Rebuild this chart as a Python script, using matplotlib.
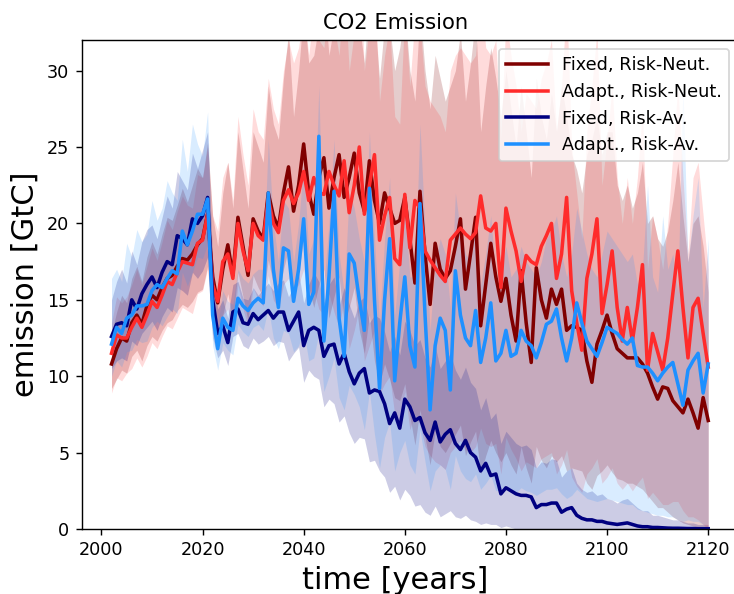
import numpy as np
import matplotlib.pyplot as plt

##############################################
### Data (mean and spread of the runs)

years = np.arange(2002, 2121)

fixed_neut = [10.8, 11.8, 12.5, 12.3, 13.5, 14.0, 13.4, 14.6, 15.3, 15.0,
              15.8, 16.4, 16.6, 17.2, 17.7, 17.6, 18.0, 18.6, 19.0, 20.6,
              16.5, 14.8, 17.0, 18.6, 16.6, 20.4, 18.5, 16.6, 20.3, 19.5,
              19.0, 22.0, 20.5, 19.7, 22.0, 23.7, 20.8, 22.5, 25.2, 22.0,
              20.6, 23.0, 24.3, 21.0, 23.0, 24.5, 21.7, 23.0, 24.6, 22.0,
              20.8, 24.1, 21.5, 20.0, 22.0, 21.0, 20.0, 20.2, 21.7, 19.0,
              16.1, 22.1, 18.0, 14.7, 18.7, 17.0, 16.4, 16.9, 18.5, 20.3,
              15.7, 18.0, 20.4, 13.3, 16.0, 18.7, 16.5, 14.9, 16.4, 14.0,
              12.3, 16.9, 13.5, 10.9, 17.1, 15.0, 13.8, 15.7, 14.7, 15.7,
              13.0, 13.3, 13.2, 13.0, 11.0, 9.6, 12.1, 13.0, 14.0, 12.8,
              11.8, 11.5, 11.2, 11.2, 11.2, 10.8, 10.2, 9.3, 8.5, 9.3,
              9.2, 8.4, 8.0, 7.6, 8.5, 7.6, 6.6, 8.6, 7.1]
fixed_neut_lo = [9.2, 9.8, 10.4, 10.2, 11.3, 11.7, 11.0, 12.0, 12.6, 12.3,
                 13.0, 13.5, 13.7, 14.3, 14.7, 14.5, 14.9, 15.5, 15.7, 17.2,
                 13.6, 12.0, 14.0, 15.4, 13.6, 16.8, 15.2, 13.6, 16.6, 15.8,
                 15.2, 17.6, 16.0, 15.2, 17.0, 18.3, 15.6, 16.8, 19.0, 15.8,
                 14.5, 16.0, 17.0, 13.8, 15.2, 16.5, 13.5, 14.5, 15.8, 13.0,
                 11.5, 14.0, 11.0, 9.5, 10.8, 9.8, 8.6, 8.4, 9.5, 7.4,
                 5.5, 7.8, 6.0, 4.2, 6.4, 5.4, 5.0, 5.6, 6.2, 6.8,
                 4.8, 5.7, 6.4, 3.6, 4.8, 5.8, 5.0, 4.4, 5.0, 4.2,
                 3.6, 5.4, 4.0, 3.0, 5.4, 4.5, 4.0, 4.8, 4.4, 4.8,
                 3.8, 4.0, 3.9, 3.8, 3.0, 2.6, 3.5, 3.8, 4.2, 3.7,
                 3.3, 3.2, 3.0, 3.0, 2.8, 2.6, 2.2, 1.8, 1.4, 1.4,
                 1.1, 0.8, 0.6, 0.4, 0.3, 0.2, 0.1, 0.05, 0.0]
fixed_neut_hi = [12.8, 14.2, 15.3, 14.8, 16.4, 17.2, 16.2, 17.8, 18.8, 18.0,
                 19.3, 20.4, 20.2, 21.2, 22.3, 21.4, 22.5, 23.6, 23.0, 25.3,
                 20.5, 18.5, 22.0, 24.0, 21.0, 26.0, 23.5, 21.0, 26.0, 25.0,
                 24.0, 29.0, 26.5, 25.5, 29.5, 32.5, 27.0, 30.0, 34.0, 30.5,
                 31.0, 33.0, 35.0, 31.0, 33.0, 35.5, 32.0, 33.5, 36.0, 33.0,
                 30.5, 35.0, 33.5, 29.5, 33.0, 33.0, 30.0, 31.5, 34.0, 30.0,
                 28.0, 34.0, 30.0, 27.5, 31.0, 29.5, 28.0, 29.0, 30.0, 32.5,
                 28.0, 30.5, 33.5, 26.0, 29.0, 31.5, 29.5, 27.0, 30.0, 27.5,
                 25.0, 29.0, 26.0, 23.0, 29.5, 27.0, 25.5, 28.5, 26.0, 29.0,
                 27.0, 24.5, 23.5, 22.0, 24.5, 25.5, 27.0, 24.5, 26.0, 26.0,
                 22.5, 21.5, 22.5, 21.0, 22.0, 24.0, 20.0, 20.5, 19.0, 18.5,
                 19.5, 21.5, 24.0, 20.5, 17.5, 20.0, 20.5, 18.5, 15.5]

adapt_neut = [11.5, 12.7, 12.5, 12.5, 13.2, 13.8, 13.2, 14.0, 14.9, 14.5,
              15.3, 16.2, 16.0, 16.8, 17.5, 17.4, 17.3, 18.7, 18.9, 20.6,
              16.0, 14.9, 17.5, 18.0, 16.4, 20.0, 18.2, 16.9, 20.0, 19.2,
              18.9, 21.6, 20.0, 19.4, 21.5, 22.2, 21.3, 22.0, 23.4, 21.5,
              23.0, 22.0, 21.9, 23.4, 22.5, 21.8, 24.1, 20.7, 22.5, 25.0,
              20.6, 22.5, 24.5, 18.9, 20.5, 21.7, 17.7, 17.3, 21.9, 18.4,
              21.5, 21.0, 18.2, 17.6, 17.1, 16.6, 16.2, 18.9, 19.3, 19.7,
              19.3, 19.0, 19.4, 21.8, 19.7, 19.5, 20.0, 15.8, 21.0, 19.5,
              18.2, 16.2, 17.9, 17.5, 17.3, 18.5, 19.2, 20.0, 16.4, 18.0,
              21.7, 15.6, 13.5, 11.7, 16.4, 18.0, 20.3, 14.1, 16.0, 18.2,
              14.5, 12.3, 14.5, 12.3, 14.5, 17.3, 10.4, 12.8, 11.6, 10.4,
              12.5, 15.4, 18.2, 14.5, 11.2, 14.5, 15.1, 12.8, 10.6]
adapt_neut_lo = [8.9, 9.9, 9.7, 10.2, 10.5, 11.2, 10.6, 11.3, 12.2, 11.8,
                 12.6, 13.3, 13.1, 13.8, 14.5, 14.3, 14.1, 15.4, 15.6, 17.0,
                 12.8, 11.8, 14.0, 14.4, 12.8, 16.0, 14.4, 13.2, 15.8, 15.0,
                 14.6, 16.6, 15.0, 14.4, 16.0, 16.4, 15.6, 16.0, 17.0, 15.0,
                 15.6, 14.4, 14.0, 15.4, 14.2, 13.2, 15.0, 11.8, 13.0, 14.5,
                 11.0, 12.0, 13.0, 8.8, 9.5, 10.0, 7.5, 7.0, 9.0, 6.5,
                 7.5, 6.8, 5.4, 4.8, 4.4, 4.2, 3.9, 5.0, 5.4, 5.8,
                 5.2, 5.0, 5.4, 6.6, 5.6, 5.4, 5.6, 3.6, 6.0, 5.2,
                 4.6, 3.8, 4.4, 4.2, 4.0, 4.6, 4.8, 5.0, 3.6, 4.2,
                 5.2, 3.4, 2.8, 2.4, 3.6, 4.0, 4.6, 3.0, 3.4, 4.0,
                 3.0, 2.6, 3.0, 2.5, 3.0, 3.4, 2.0, 2.4, 2.0, 1.6,
                 1.6, 1.8, 1.8, 1.2, 0.8, 0.8, 0.6, 0.3, 0.0]
adapt_neut_hi = [13.5, 15.2, 14.8, 15.2, 16.0, 17.0, 16.0, 17.2, 18.4, 17.6,
                 18.8, 20.2, 19.6, 20.8, 21.8, 21.2, 21.0, 23.2, 23.0, 25.0,
                 20.5, 19.5, 23.0, 24.0, 21.5, 27.0, 24.5, 22.5, 27.5, 26.0,
                 25.5, 29.5, 27.5, 26.5, 30.0, 32.0, 30.5, 31.5, 34.0, 31.0,
                 34.0, 32.0, 31.5, 35.0, 33.0, 31.0, 36.0, 30.0, 32.5, 38.0,
                 30.0, 33.0, 36.5, 28.0, 31.0, 33.0, 27.0, 26.5, 34.0, 29.0,
                 33.5, 33.0, 29.0, 28.0, 27.5, 27.0, 26.0, 30.0, 31.0, 31.5,
                 31.0, 30.5, 31.0, 35.0, 31.5, 31.0, 32.0, 25.5, 33.5, 31.0,
                 29.0, 26.0, 28.5, 28.0, 27.5, 29.5, 30.5, 32.0, 26.0, 29.0,
                 34.5, 25.0, 22.0, 19.0, 26.0, 29.0, 32.5, 22.5, 25.5, 29.0,
                 23.0, 20.0, 23.0, 20.0, 23.0, 27.5, 17.0, 20.5, 19.0, 17.0,
                 20.0, 24.5, 29.0, 23.0, 18.0, 23.0, 24.0, 20.5, 17.0]

fixed_av = [12.6, 13.4, 13.5, 13.3, 15.0, 14.4, 15.4, 16.0, 16.5, 15.8,
            16.8, 17.5, 17.3, 19.2, 19.0, 18.6, 20.3, 20.0, 20.5, 21.7,
            15.0, 12.8, 13.3, 12.2, 14.2, 14.4, 13.5, 13.4, 14.1, 13.7,
            14.0, 14.3, 13.8, 14.2, 14.2, 13.0, 13.6, 14.2, 12.0, 13.0,
            13.2, 13.0, 11.3, 12.0, 12.1, 10.8, 11.5, 10.3, 9.5, 10.2,
            10.5, 8.9, 9.1, 9.0, 8.2, 6.9, 7.6, 6.6, 8.5, 8.0,
            7.1, 7.3, 6.3, 5.8, 7.0, 5.7, 6.2, 6.5, 5.6, 5.2,
            5.8, 5.0, 4.7, 3.8, 4.3, 3.5, 3.6, 2.3, 2.7, 2.5,
            2.3, 2.2, 2.2, 2.1, 1.4, 1.6, 1.6, 1.7, 1.7, 1.1,
            1.3, 1.4, 0.9, 0.7, 0.6, 0.6, 0.5, 0.5, 0.4, 0.35,
            0.3, 0.35, 0.4, 0.3, 0.2, 0.15, 0.15, 0.1, 0.1, 0.08,
            0.06, 0.05, 0.05, 0.04, 0.03, 0.03, 0.02, 0.02, 0.02]
fixed_av_lo = [10.5, 11.0, 11.2, 11.0, 12.3, 12.0, 12.8, 13.2, 13.6, 13.0,
               13.9, 14.5, 14.2, 15.8, 15.6, 15.3, 16.8, 16.4, 16.9, 17.8,
               12.5, 11.2, 11.7, 10.7, 12.6, 12.8, 12.0, 11.8, 12.5, 12.1,
               12.3, 12.6, 12.0, 12.3, 12.2, 11.0, 11.5, 11.9, 9.6, 10.4,
               10.0, 9.8, 8.0, 8.5, 8.2, 7.0, 7.4, 6.3, 5.6, 6.0,
               5.9, 4.4, 4.5, 3.8, 3.4, 2.4, 2.8, 1.9, 2.6, 2.2,
               1.5, 1.6, 1.1, 0.9, 1.5, 0.8, 1.0, 1.2, 0.8, 0.7,
               0.9, 0.6, 0.5, 0.3, 0.4, 0.3, 0.3, 0.1, 0.2, 0.1,
               0.0, 0.0, 0.0, 0.0, 0.0, 0.0, 0.0, 0.0, 0.0, 0.0,
               0.0, 0.0, 0.0, 0.0, 0.0, 0.0, 0.0, 0.0, 0.0, 0.0,
               0.0, 0.0, 0.0, 0.0, 0.0, 0.0, 0.0, 0.0, 0.0, 0.0,
               0.0, 0.0, 0.0, 0.0, 0.0, 0.0, 0.0, 0.0, 0.0]
fixed_av_hi = [15.0, 16.2, 17.0, 16.1, 18.2, 17.3, 18.8, 19.6, 19.9, 19.0,
               20.4, 21.8, 21.0, 23.4, 22.8, 22.2, 24.6, 23.6, 24.8, 26.0,
               17.5, 14.4, 15.0, 13.8, 16.0, 16.2, 15.1, 15.0, 15.8, 15.3,
               15.7, 16.1, 15.6, 16.1, 16.3, 15.2, 15.9, 16.8, 14.8, 16.0,
               16.8, 16.2, 14.8, 16.0, 16.5, 14.6, 15.8, 14.7, 13.8, 14.9,
               15.2, 13.5, 14.0, 13.8, 12.9, 11.6, 12.6, 11.4, 13.6, 13.0,
               12.0, 12.4, 11.2, 10.6, 12.0, 10.5, 11.0, 11.5, 10.4, 9.8,
               10.6, 9.6, 9.2, 7.8, 8.6, 7.2, 7.6, 5.6, 6.4, 6.0,
               5.6, 5.4, 5.5, 5.2, 4.0, 4.4, 4.3, 4.6, 4.5, 3.4,
               3.8, 4.0, 3.0, 2.6, 2.4, 2.5, 2.2, 2.3, 2.0, 1.9,
               1.7, 1.9, 2.0, 1.7, 1.4, 1.2, 1.2, 0.9, 0.9, 0.8,
               0.7, 0.6, 0.6, 0.5, 0.4, 0.4, 0.3, 0.3, 0.3]

adapt_av = [12.1, 13.2, 12.8, 13.8, 14.0, 14.6, 14.6, 14.7, 15.6, 16.0,
            15.8, 16.4, 16.9, 16.7, 19.5, 18.6, 19.5, 20.6, 20.6, 21.6,
            14.0, 11.8, 13.8, 13.2, 13.0, 15.1, 14.6, 14.3, 14.8, 15.1,
            14.8, 22.0, 17.0, 14.5, 18.4, 18.2, 14.9, 17.0, 20.3, 14.7,
            15.5, 25.7, 12.3, 16.5, 22.1, 13.8, 11.3, 18.0, 17.4, 15.0,
            13.0, 22.3, 15.0, 9.2, 15.0, 19.0, 9.7, 13.5, 16.5, 12.0,
            10.6, 21.3, 14.0, 7.8, 12.0, 13.8, 13.0, 9.1, 16.9, 14.0,
            12.5, 12.0, 14.3, 10.9, 12.5, 14.8, 11.0, 11.5, 13.0, 11.3,
            11.5, 13.0, 12.3, 12.0, 11.2, 12.2, 13.4, 13.6, 14.4, 12.5,
            11.0, 12.5, 14.8, 13.5, 12.3, 11.8, 11.3, 12.2, 13.2, 13.0,
            12.8, 12.4, 12.1, 12.5, 10.7, 10.6, 10.6, 10.2, 9.7, 10.2,
            10.6, 10.9, 9.5, 8.1, 10.4, 11.0, 11.5, 8.9, 10.8]
adapt_av_lo = [10.0, 11.0, 10.6, 11.6, 11.7, 12.4, 12.2, 12.3, 13.2, 13.6,
               13.3, 13.9, 14.4, 14.1, 16.8, 15.9, 16.8, 17.8, 17.7, 18.6,
               12.0, 10.4, 12.2, 11.7, 11.4, 13.4, 12.9, 12.6, 13.2, 13.4,
               13.0, 14.5, 12.5, 11.8, 13.0, 12.8, 11.6, 12.0, 13.0, 11.0,
               11.2, 12.8, 9.0, 10.0, 11.2, 8.6, 7.8, 9.4, 8.8, 8.0,
               6.5, 9.0, 6.2, 4.0, 6.0, 7.0, 3.8, 5.0, 5.8, 4.2,
               3.6, 6.5, 4.4, 2.5, 3.8, 4.2, 3.9, 2.6, 4.8, 3.8,
               3.3, 3.1, 3.6, 2.6, 3.0, 3.5, 2.5, 2.6, 2.9, 2.4,
               2.4, 2.7, 2.5, 2.4, 2.2, 2.4, 2.6, 2.6, 2.7, 2.3,
               2.0, 2.2, 2.6, 2.3, 2.0, 1.9, 1.8, 1.9, 2.0, 1.9,
               1.8, 1.7, 1.6, 1.6, 1.3, 1.2, 1.1, 1.0, 0.9, 0.9,
               0.8, 0.8, 0.6, 0.5, 0.6, 0.5, 0.5, 0.3, 0.3]
adapt_av_hi = [16.4, 17.0, 16.2, 18.7, 17.8, 19.6, 18.8, 19.3, 21.5, 20.2,
               21.0, 22.8, 22.0, 21.5, 25.5, 23.4, 26.5, 25.2, 24.4, 27.3,
               16.2, 13.4, 15.6, 14.9, 14.7, 17.0, 16.4, 16.1, 16.7, 17.0,
               17.0, 25.5, 20.0, 17.5, 21.5, 21.0, 17.5, 20.0, 24.0, 18.0,
               19.0, 29.0, 16.0, 20.0, 25.5, 18.0, 15.5, 22.0, 21.0, 19.0,
               17.5, 26.0, 19.0, 13.5, 19.0, 23.0, 14.0, 17.5, 21.0, 16.5,
               16.5, 26.5, 19.5, 13.0, 17.5, 19.0, 18.0, 14.5, 22.0, 19.5,
               18.0, 17.5, 20.0, 16.0, 18.0, 20.5, 16.5, 17.0, 18.5, 16.5,
               17.0, 18.5, 17.5, 17.0, 16.5, 17.5, 19.0, 19.5, 20.5, 18.0,
               16.5, 18.0, 21.0, 19.5, 18.0, 17.0, 16.5, 18.0, 19.5, 19.0,
               18.5, 18.0, 17.5, 18.0, 16.0, 17.0, 22.5, 16.5, 15.5, 20.5,
               17.0, 18.0, 15.5, 29.0, 17.5, 20.5, 23.0, 14.5, 19.0]

labels = ['Fixed, Risk-Neut.', 'Adapt., Risk-Neut.', 'Fixed, Risk-Av.', 'Adapt., Risk-Av.']
colors = ['maroon', '#ff2b2b', 'navy', 'dodgerblue']
band_alpha = [0.2, 0.17, 0.2, 0.17]

series = [(fixed_neut, fixed_neut_lo, fixed_neut_hi),
          (adapt_neut, adapt_neut_lo, adapt_neut_hi),
          (fixed_av, fixed_av_lo, fixed_av_hi),
          (adapt_av, adapt_av_lo, adapt_av_hi)]

###############################################
### Figure

fig = plt.figure(figsize=(734 / 127, 594 / 127), dpi=127)
ax = fig.add_axes([0.1113, 0.1094, 0.8942, 0.8232])

for (mean, lo, hi), c, a in zip(series, colors, band_alpha):
    ax.fill_between(years, lo, hi, color=c, alpha=a, linewidth=0)

for (mean, lo, hi), c, lab in zip(series, colors, labels):
    ax.plot(years, mean, color=c, lw=2, label=lab)

ax.set_ylim(0, 32)
ax.spines['right'].set_visible(False)
ax.set_title('CO2 Emission', x=0.478)
ax.set_xlabel('time [years]', fontsize='xx-large')
ax.xaxis.set_label_coords(0.478, -0.075)
ax.set_ylabel('emission [GtC]', fontsize='xx-large')
ax.legend(loc='upper right', handlelength=2.4)

###############################################
### Save

plt.savefig('out.png', dpi=127)
